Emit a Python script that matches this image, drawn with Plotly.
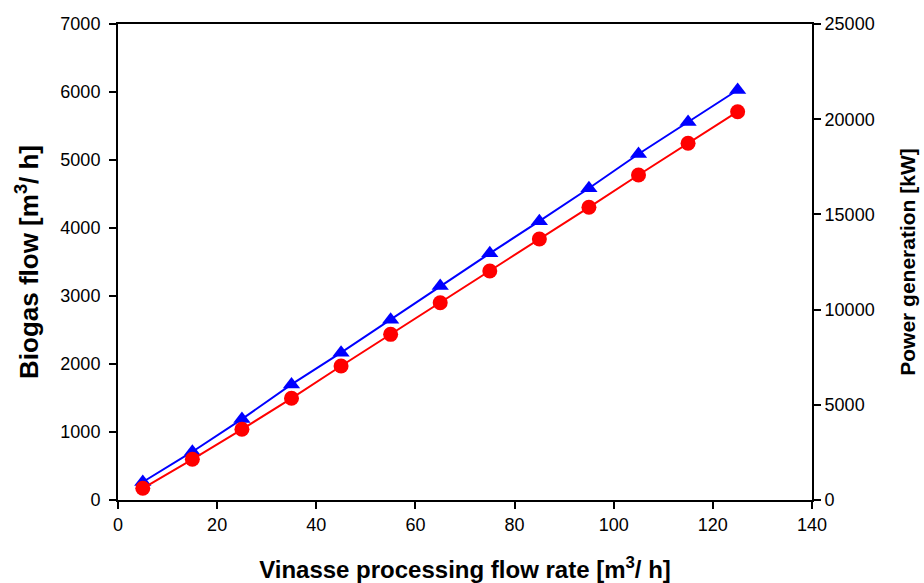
import plotly.graph_objects as go

flow_rate = [5, 15, 25, 35, 45, 55, 65, 75, 85, 95, 105, 115, 125]
biogas_flow = [265, 710, 1190, 1700, 2166, 2650, 3147, 3628, 4100, 4584, 5088, 5560, 6029]
power_gen = [614, 2138, 3713, 5341, 7038, 8700, 10362, 12027, 13708, 15373, 17069, 18734, 20394]

x_ticks = [0, 20, 40, 60, 80, 100, 120, 140]
y1_ticks = [0, 1000, 2000, 3000, 4000, 5000, 6000, 7000]
y2_ticks = [0, 5000, 10000, 15000, 20000, 25000]

FONT = "Liberation Sans, Arial, sans-serif"

fig = go.Figure()
fig.add_trace(go.Scatter(
    x=flow_rate, y=biogas_flow, mode="lines+markers", name="Biogas flow",
    line=dict(color="#0000ff", width=2),
    marker=dict(symbol="triangle-up", size=15, color="#0000ff"),
    yaxis="y", showlegend=False, cliponaxis=False))
fig.add_trace(go.Scatter(
    x=flow_rate, y=power_gen, mode="lines+markers", name="Power generation",
    line=dict(color="#ff0000", width=2),
    marker=dict(symbol="circle", size=15, color="#ff0000"),
    yaxis="y2", showlegend=False, cliponaxis=False))

axis_common = dict(showgrid=False, zeroline=False, showline=True, linecolor="black",
                   linewidth=2, ticks="outside", ticklen=7, tickwidth=1.5,
                   tickcolor="black", tickformat="d", automargin=False,
                   tickfont=dict(family=FONT, size=18, color="black"))

fig.update_layout(
    width=924, height=583,
    margin=dict(l=118, r=112, t=24, b=83),
    paper_bgcolor="white", plot_bgcolor="white",
    font=dict(family=FONT, color="black"),
    xaxis=dict(range=[0, 140], tickvals=x_ticks, mirror=True,
               title=dict(text="<b>Vinasse processing flow rate [m<sup>3</sup>/ h]</b>",
                          font=dict(family=FONT, size=24, color="black"), standoff=34),
               **axis_common),
    yaxis=dict(range=[0, 7000], tickvals=y1_ticks, ticklabelstandoff=5,
               title=dict(text="<b>Biogas flow [m<sup>3</sup>/ h]</b>",
                          font=dict(family=FONT, size=26, color="black"), standoff=14),
               **axis_common),
    yaxis2=dict(range=[0, 25000], tickvals=y2_ticks, overlaying="y", side="right",
                title=dict(text="<b>Power generation [kW]</b>",
                           font=dict(family=FONT, size=21, color="black"), standoff=27),
                **axis_common),
)

fig.write_html("out.html")
